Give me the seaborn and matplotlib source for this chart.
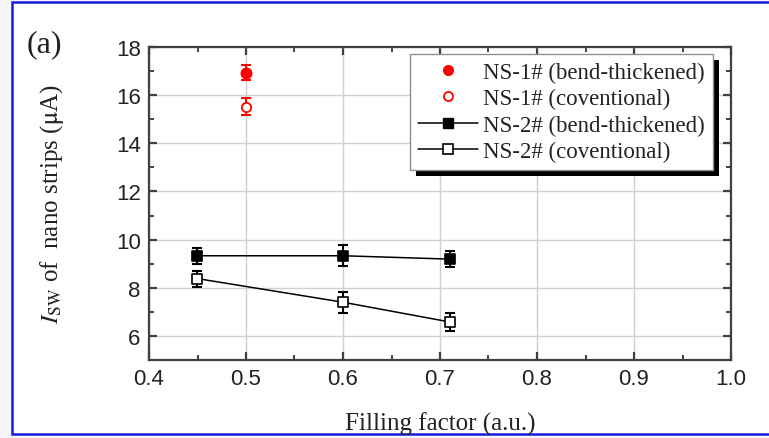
import numpy as np
import pandas as pd
import matplotlib
matplotlib.use("Agg")
import matplotlib.pyplot as plt
from matplotlib.lines import Line2D
from matplotlib.patches import Rectangle
from matplotlib.ticker import MultipleLocator
import seaborn as sns

# data
ns1_x = [0.5]
ns1_bend = [16.93]
ns1_bend_err = [0.32]
ns1_conv = [15.52]
ns1_conv_err = [0.36]

ns2_x = [0.45, 0.60, 0.71]
ns2_bend = [9.33, 9.33, 9.19]
ns2_bend_err = [0.33, 0.44, 0.32]
ns2_conv = [8.38, 7.40, 6.58]
ns2_conv_err = [0.33, 0.44, 0.39]

legend_labels = ["NS-1# (bend-thickened)", "NS-1# (coventional)",
                 "NS-2# (bend-thickened)", "NS-2# (coventional)"]

sns.set_theme(style="ticks")
plt.rcParams["mathtext.fontset"] = "stix"
plt.rcParams["font.family"] = ["Liberation Serif", "DejaVu Serif"]

fig = plt.figure(figsize=(7.69, 4.39), dpi=100)
fig.patch.set_facecolor("#f4f6fb")
# white page with blue frame
fig.add_artist(Rectangle((12 / 769, 1 - 435 / 439), 1, (435 - 3) / 439,
                         transform=fig.transFigure, facecolor="white",
                         edgecolor="#1a1adc", linewidth=1.8, zorder=-10))

ax = fig.add_axes([149 / 769, 1 - 361 / 439, (731 - 149) / 769, (361 - 48) / 439])
ax.set_facecolor("white")

ns2 = pd.DataFrame({"x": ns2_x * 2,
                    "y": ns2_bend + ns2_conv,
                    "s": ["bend"] * 3 + ["conv"] * 3})

# error bars
ax.errorbar(ns1_x, ns1_bend, yerr=ns1_bend_err, fmt="none", ecolor="red",
            elinewidth=1.5, capsize=3.5, capthick=1.5, zorder=3)
ax.errorbar(ns1_x, ns1_conv, yerr=ns1_conv_err, fmt="none", ecolor="red",
            elinewidth=1.5, capsize=3.5, capthick=1.5, zorder=3)
ax.errorbar(ns2_x, ns2_bend, yerr=ns2_bend_err, fmt="none", ecolor="black",
            elinewidth=1.5, capsize=3.5, capthick=1.5, zorder=3)
ax.errorbar(ns2_x, ns2_conv, yerr=ns2_conv_err, fmt="none", ecolor="black",
            elinewidth=1.5, capsize=3.5, capthick=1.5, zorder=3)

# lines through NS-2 points
sns.lineplot(data=ns2, x="x", y="y", hue="s", palette=["black", "black"],
             linewidth=1.1, legend=False, ax=ax, zorder=3, sort=False)

# markers
sns.scatterplot(x=ns1_x, y=ns1_bend, marker="o", s=55, color="red",
                edgecolor="red", linewidth=1.2, ax=ax, zorder=4)
sns.scatterplot(x=ns1_x, y=ns1_conv, marker="o", s=45, facecolor="white",
                edgecolor="red", linewidth=1.3, ax=ax, zorder=4)
sns.scatterplot(x=ns2_x, y=ns2_bend, marker="s", s=50, color="black",
                edgecolor="black", linewidth=1.2, ax=ax, zorder=4)
sns.scatterplot(x=ns2_x, y=ns2_conv, marker="s", s=45, facecolor="white",
                edgecolor="black", linewidth=1.2, ax=ax, zorder=4)

ax.set_xlim(0.4, 1.0)
ax.set_ylim(5, 18)
ax.xaxis.set_major_locator(MultipleLocator(0.1))
ax.xaxis.set_minor_locator(MultipleLocator(0.05))
ax.yaxis.set_major_locator(MultipleLocator(2))
ax.yaxis.set_minor_locator(MultipleLocator(1))
ax.set_xticks(np.arange(0.4, 1.01, 0.1))
ax.set_yticks(np.arange(6, 18.1, 2))
ax.grid(True, which="major", color="#d0d0d0", linewidth=1.0)

spine_col = "#404040"
for sp in ax.spines.values():
    sp.set_visible(True)
    sp.set_color(spine_col)
    sp.set_linewidth(1.6)
ax.tick_params(which="both", direction="in", top=True, right=True, color=spine_col)
ax.tick_params(which="major", length=6, width=1.6, labelsize=16, pad=6)
ax.tick_params(which="minor", length=3.5, width=1.4)
for lab in ax.get_xticklabels() + ax.get_yticklabels():
    lab.set_family(["Liberation Sans", "DejaVu Sans"])
    lab.set_color("#222222")

ax.set_xlabel("Filling factor (a.u.)", fontsize=18, labelpad=16, color="#222222")
ax.set_ylabel(r"$I_{\rm SW}$ of  nano strips ($\rm\mu$A)", fontsize=18,
              labelpad=36, color="#222222")

fig.text(27 / 769, 1 - 45 / 439, "(a)", fontsize=23, va="center", ha="left",
         color="#222222")

handles = [
    Line2D([], [], linestyle="none", marker="o", markersize=7, color="red"),
    Line2D([], [], linestyle="none", marker="o", markersize=6.5,
           markerfacecolor="white", markeredgecolor="red", markeredgewidth=1.3),
    Line2D([], [], color="black", linewidth=1.1, marker="s", markersize=7),
    Line2D([], [], color="black", linewidth=1.1, marker="s", markersize=6.5,
           markerfacecolor="white", markeredgecolor="black", markeredgewidth=1.2),
]
leg = ax.legend(handles, legend_labels, loc="upper right",
                bbox_to_anchor=((713 - 149) / 582, (361 - 55) / 313),
                prop={"size": 16.5}, frameon=True, fancybox=False, framealpha=1,
                edgecolor="#909090", handlelength=2.6, handletextpad=0.25,
                labelspacing=0.22, borderpad=0.35, borderaxespad=0)
leg.get_frame().set_linewidth(1.0)
for t in leg.get_texts():
    t.set_color("#222222")

# drop shadow behind the legend
fig.canvas.draw()
bb = leg.get_window_extent()
ax.add_patch(Rectangle((bb.x0 + 6, bb.y0 - 6), bb.width, bb.height,
                       transform=None, facecolor="black", edgecolor="none",
                       zorder=4.9, clip_on=False))

fig.savefig("out.png", dpi=100, facecolor=fig.get_facecolor())
